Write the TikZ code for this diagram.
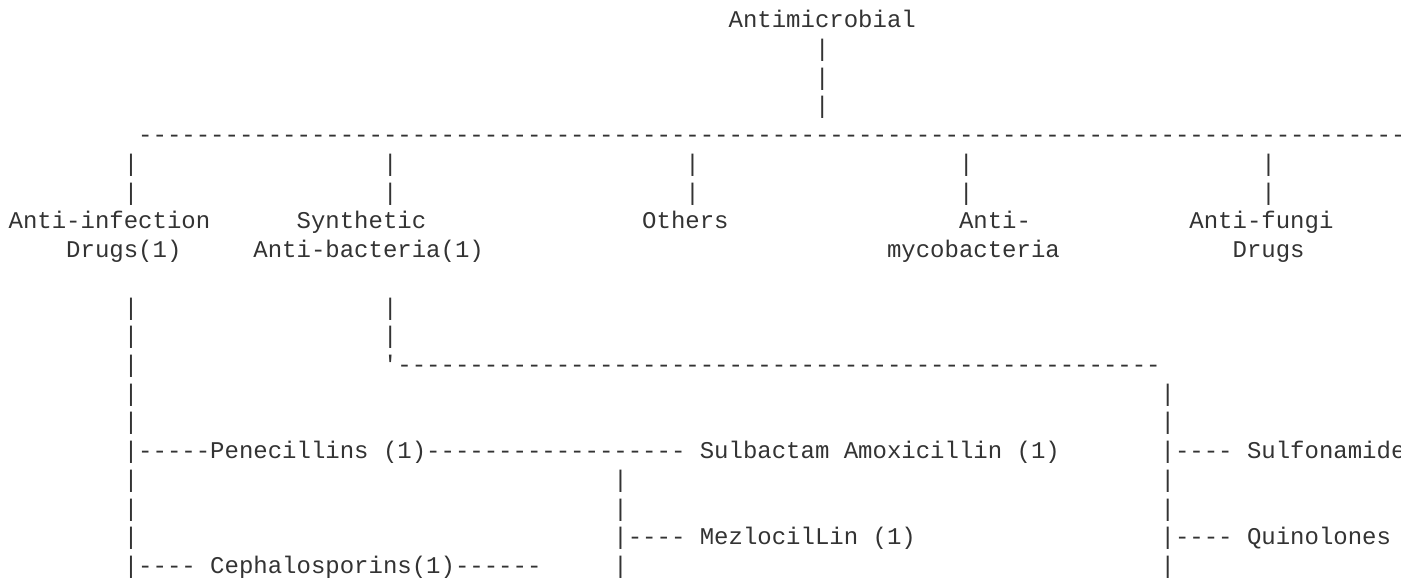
\documentclass[tikz,border=0pt]{standalone}
\usepackage{fontspec}
\newfontfamily\asciifont[Ligatures=TeXOff]{Liberation Mono}
\usetikzlibrary{positioning}
\newcommand{\dashes}[1]{\foreach \i in {1,...,#1}{-}}

\begin{document}
\begin{tikzpicture}[x=10.8pt, y=21.555pt,
    ascii/.style={inner sep=0pt, outer sep=0pt, anchor=base west,
      font=\asciifont\fontsize{18pt}{21.6pt}\selectfont, text=black!80}]
  \useasboundingbox (0pt,0pt) rectangle (1050.75pt,-433.5pt);
  \clip (0pt,0pt) rectangle (1050.75pt,-433.5pt);
  \begin{scope}[shift={(6.45pt,-20.7pt)}, every node/.style={ascii}]
    % root
    \node (root) at (50,0) {Antimicrobial};
    \foreach \r in {1,2,3}
      \node (rootbar\r) at (56,-\r) {|};
    \node (rail) at (9,-4) {\dashes{89}};
    \foreach \r in {5,6}
      \foreach \col/\nm in {8/a,26/b,47/c,66/d,87/e}
        \node (\nm\r) at (\col,-\r) {|};
    % first level
    \node (antiinf) at (0,-7) {Anti-infection};
    \node (drugsone) at (4,-8) {Drugs(1)};
    \node (synth) at (20,-7) {Synthetic};
    \node (antibact) at (17,-8) {Anti-bacteria(1)};
    \node (others) at (44,-7) {Others};
    \node (antimyco) at (66,-7) {Anti-};
    \node (myco) at (61,-8) {mycobacteria};
    \node (antifungi) at (82,-7) {Anti-fungi};
    \node (fungidrugs) at (85,-8) {Drugs};
    % drug branches
    \foreach \r in {10,11} {
      \node (l\r) at (8,-\r) {|};
      \node (s\r) at (26,-\r) {|};
    }
    \node (l12) at (8,-12) {|};
    \node (synthrail) at (26,-12) {'\dashes{53}};
    \foreach \r in {13,14} {
      \node (l\r) at (8,-\r) {|};
      \node (r\r) at (80,-\r) {|};
    }
    \node (l15) at (8,-15) {|\dashes{5}};
    \node (pen) at (14,-15) {Penecillins (1)};
    \node (penrail) at (29,-15) {\dashes{18}};
    \node (sulb) at (48,-15) {Sulbactam Amoxicillin (1)};
    \node (r15) at (80,-15) {|\dashes{4}};
    \node (sulfa) at (86,-15) {Sulfonamide};
    \foreach \r in {16,17} {
      \node (l\r) at (8,-\r) {|};
      \node (m\r) at (42,-\r) {|};
      \node (r\r) at (80,-\r) {|};
    }
    \node (l18) at (8,-18) {|};
    \node (m18) at (42,-18) {|\dashes{4}};
    \node (mezlo) at (48,-18) {MezlocilLin (1)};
    \node (r18) at (80,-18) {|\dashes{4}};
    \node (quino) at (86,-18) {Quinolones};
    \node (l19) at (8,-19) {|\dashes{4}};
    \node (cepha) at (14,-19) {Cephalosporins(1)};
    \node (cepharail) at (31,-19) {\dashes{6}};
    \node (m19) at (42,-19) {|};
    \node (r19) at (80,-19) {|};
  \end{scope}
\end{tikzpicture}
\end{document}
